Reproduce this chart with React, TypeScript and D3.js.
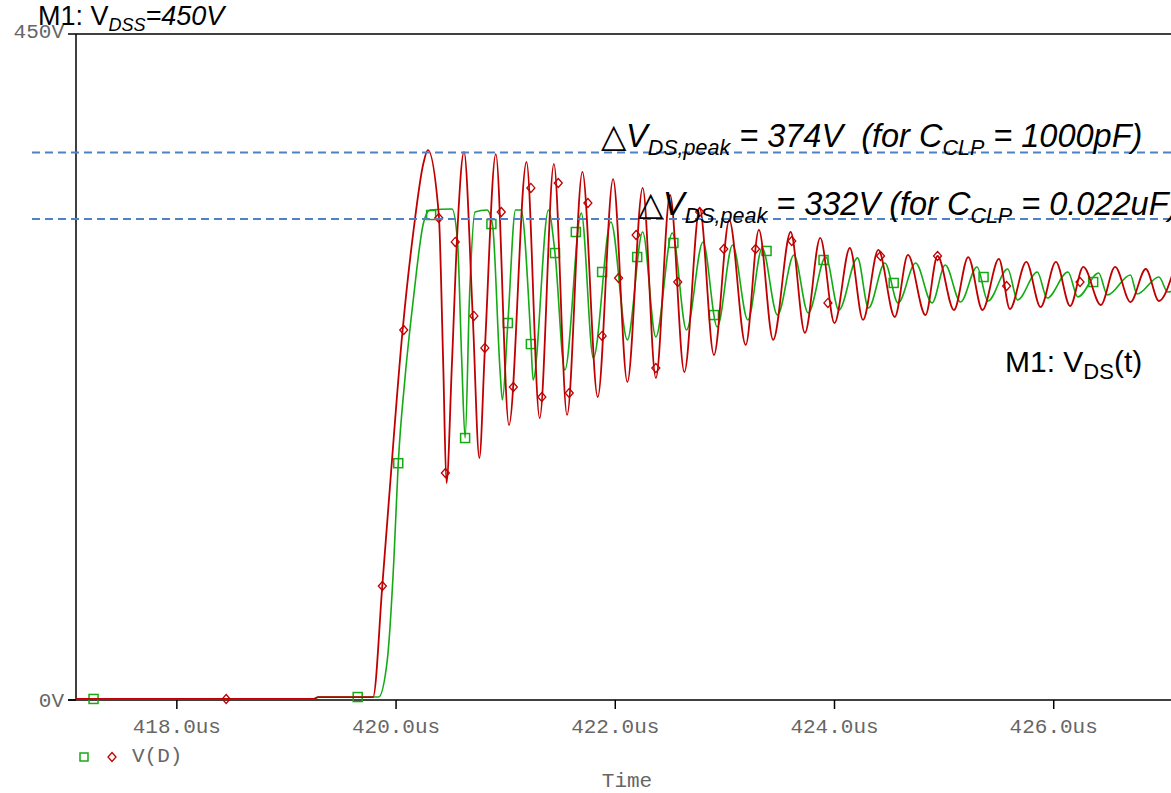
import React from 'react';
import * as d3 from 'd3';

// Axis ticks
const xTicks = [418, 420, 422, 424, 426];
const yTicks = [0, 450];
const yTickLabels = ['0V', '450V'];

// Peak reference levels (dashed lines)
const peakLevels = [370, 325];

// V(D) for C_CLP = 1000pF (red), [time us, volts]
const redPoints: [number, number][] = [
  [417.0, 0.7], [419.25, 0.7], [419.29, 2], [419.79, 2], [419.875, 77.7], [419.93, 130.4],
  [420.06, 250], [420.16, 317.6], [420.25, 362.8], [420.29, 371.6], [420.39, 327.7],
  [420.43, 227.7], [420.46, 146.6], [420.51, 227.7], [420.56, 317.6], [420.62, 370.3],
  [420.70, 258.8], [420.76, 163.5], [420.81, 236.5], [420.91, 368.9], [421.03, 185.8],
  [421.19, 363.5], [421.31, 190.5], [421.44, 362.2], [421.56, 192.6], [421.70, 356.8],
  [421.84, 204.7], [421.98, 352], [422.11, 214.9], [422.25, 346], [422.37, 217.6],
  [422.50, 341.2], [422.63, 221.6], [422.77, 332.4], [422.90, 233.1], [423.04, 324.3],
  [423.19, 239.9], [423.31, 317.6], [423.44, 243.3], [423.60, 316.2], [423.73, 248],
  [423.87, 312.2], [424.00, 254.7], [424.14, 305.4], [424.26, 256.8], [424.40, 304.1],
  [424.55, 258.8], [424.67, 300.7], [424.83, 260.1], [424.94, 300], [425.09, 263.5],
  [425.22, 299.3], [425.35, 263.5], [425.50, 298], [425.60, 264.2], [425.75, 296],
  [425.88, 265.5], [426.02, 296], [426.15, 266.2], [426.27, 292.6], [426.43, 266.9],
  [426.56, 292.6], [426.70, 268.9], [426.84, 291.2], [426.96, 269.6], [427.09, 289.2],
];

// V(D) for C_CLP = 0.022uF (green), [time us, volts]
const greenPoints: [number, number][] = [
  [417.0, 0.7], [419.25, 0.7], [419.29, 2], [419.84, 2], [419.92, 27], [419.98, 94.6],
  [420.02, 160.1], [420.08, 216.2], [420.16, 272.3], [420.25, 322.3], [420.31, 331.1],
  [420.51, 331.8], [420.56, 310.8], [420.60, 227.7], [420.63, 177], [420.67, 272.3],
  [420.72, 329.7], [420.83, 331.1], [420.88, 321], [420.95, 221], [420.97, 202.7],
  [421.02, 254.7], [421.09, 331.1], [421.14, 331.1], [421.23, 243.3], [421.25, 216.2],
  [421.39, 331.1], [421.45, 302], [421.54, 223], [421.69, 329], [421.80, 231.1],
  [421.96, 323], [422.11, 243.3], [422.25, 316.2], [422.37, 245.3], [422.52, 315.5],
  [422.65, 250], [422.80, 309.5], [422.93, 252], [423.07, 307.4], [423.21, 256.8],
  [423.34, 305.4], [423.48, 260.1], [423.63, 300.7], [423.76, 261.5], [423.92, 299.3],
  [424.04, 263.5], [424.21, 298.7], [424.31, 264.9], [424.46, 295.3], [424.58, 268.3],
  [424.74, 295.3], [424.89, 268.3], [425.01, 293.9], [425.15, 268.9], [425.30, 292.6],
  [425.40, 269.6], [425.58, 291.2], [425.67, 270.3], [425.85, 289.2], [425.94, 271.6],
  [426.13, 289.2], [426.22, 272.3], [426.41, 288.5], [426.49, 273.7], [426.70, 287.2],
  [426.76, 274.3], [426.96, 285.8], [427.04, 275.7], [427.20, 285],
];

// Trace markers
const redMarkers: [number, number][] = [
  [418.45, 0.7], [419.875, 77], [420.07, 250], [420.39, 325.7], [420.45, 153.4],
  [420.54, 309.5], [420.71, 259.5], [420.81, 237.9], [420.96, 329.7], [421.07, 211.5],
  [421.23, 346], [421.33, 204.7], [421.48, 349.3], [421.58, 207.4], [421.75, 335.8],
  [421.88, 246], [422.03, 285.1], [422.19, 314.2], [422.37, 224.3], [422.57, 282.4],
  [422.77, 329.7], [422.99, 304.7], [423.28, 304.7], [423.61, 310.1], [423.94, 268.3],
  [424.42, 300], [424.94, 300], [425.57, 279.7], [426.24, 282.4],
];
const greenMarkers: [number, number][] = [
  [417.24, 0.7], [419.65, 2], [420.02, 160], [420.32, 327.7], [420.63, 177],
  [420.87, 321.6], [421.02, 254.7], [421.23, 240.5], [421.45, 302], [421.64, 316.2],
  [421.88, 289.2], [422.20, 299.3], [422.53, 308.8], [422.90, 260.1], [423.38, 303.4],
  [423.90, 297.3], [424.54, 281.8], [425.36, 285.8], [426.36, 282.4],
];

const RED = '#c00000';
const GREEN = '#14aa14';
const BLUE = '#4f81c6';
const MONO = '"Liberation Mono", "DejaVu Sans Mono", monospace';
const SANS = '"Liberation Sans", Arial, sans-serif';

export default function App() {
  const W = 1171;
  const H = 793;
  const x = d3.scaleLinear().domain([417.08, 427.07]).range([76, 1171]);
  const y = d3.scaleLinear().domain([0, 450]).range([700, 34]);

  const line = d3
    .line<[number, number]>()
    .x((d) => x(d[0]))
    .y((d) => y(d[1]))
    .curve(d3.curveMonotoneX);

  const diamond = (cx: number, cy: number) =>
    `M${cx},${cy - 4.5}L${cx + 4},${cy}L${cx},${cy + 4.5}L${cx - 4},${cy}Z`;

  return (
    <svg
      width={W}
      height={H}
      style={{ position: 'absolute', left: 0, top: 0, background: '#fff' }}
    >
      <defs>
        <clipPath id="plotClip">
          <rect x={76} y={20} width={W - 76} height={690} />
        </clipPath>
      </defs>
      <rect x={0} y={0} width={W} height={H} fill="#fff" />

      {/* axes frame */}
      <line x1={76} x2={W} y1={y(450)} y2={y(450)} stroke="#000" strokeWidth={1.5} />
      <line x1={76} x2={76} y1={y(450)} y2={y(0)} stroke="#000" strokeWidth={1.5} />
      <line x1={68} x2={W} y1={y(0)} y2={y(0)} stroke="#000" strokeWidth={1.5} />
      {yTicks.map((v, i) => (
        <g key={v}>
          <line x1={68} x2={76} y1={y(v)} y2={y(v)} stroke="#000" strokeWidth={1.5} />
          <text
            x={64}
            y={y(v) + (v === 0 ? 7 : 4)}
            textAnchor="end"
            fontFamily={MONO}
            fontSize={21}
            fill="#666"
          >
            {yTickLabels[i]}
          </text>
        </g>
      ))}
      {xTicks.map((t) => (
        <g key={t}>
          <line x1={x(t)} x2={x(t)} y1={y(0)} y2={y(0) + 9} stroke="#000" strokeWidth={1.5} />
          <text
            x={x(t)}
            y={733}
            textAnchor="middle"
            fontFamily={MONO}
            fontSize={21}
            fill="#666"
          >
            {`${t.toFixed(1)}us`}
          </text>
        </g>
      ))}
      <text x={627} y={787} textAnchor="middle" fontFamily={MONO} fontSize={21} fill="#666">
        Time
      </text>

      {/* traces */}
      <g clipPath="url(#plotClip)">
        <path d={line(greenPoints) || ''} fill="none" stroke={GREEN} strokeWidth={1.6} />
        {greenMarkers.map((d, i) => (
          <rect
            key={'g' + i}
            x={x(d[0]) - 4.5}
            y={y(d[1]) - 4.5}
            width={9}
            height={9}
            fill="none"
            stroke={GREEN}
            strokeWidth={1.5}
          />
        ))}
        <path d={line(redPoints) || ''} fill="none" stroke={RED} strokeWidth={1.8} />
        {redMarkers.map((d, i) => (
          <path
            key={'r' + i}
            d={diamond(x(d[0]), y(d[1]))}
            fill="none"
            stroke={RED}
            strokeWidth={1.3}
          />
        ))}
      </g>

      {/* peak reference lines */}
      {peakLevels.map((v) => (
        <line
          key={v}
          x1={32}
          x2={W}
          y1={y(v)}
          y2={y(v)}
          stroke={BLUE}
          strokeWidth={2}
          strokeDasharray="8,5"
        />
      ))}

      {/* legend */}
      <rect x={80} y={753} width={8} height={8} fill="none" stroke={GREEN} strokeWidth={1.5} />
      <path d={diamond(112, 757)} fill="none" stroke={RED} strokeWidth={1.3} />
      <text x={132} y={762} fontFamily={MONO} fontSize={21} fill="#666">
        V(D)
      </text>

      {/* title */}
      <text x={38} y={25} fontFamily={SANS} fontSize={27} fill="#000">
        <tspan>M1: V</tspan>
        <tspan y={31} fontSize={18} fontStyle="italic">DSS</tspan>
        <tspan y={25} fontStyle="italic">=450V</tspan>
      </text>

      {/* annotations */}
      <text x={601} y={147} fontFamily={SANS} fontSize={32.5} fill="#000" style={{ whiteSpace: 'pre' }}>
        <tspan>△</tspan>
        <tspan fontStyle="italic">V</tspan>
        <tspan y={155} fontSize={21.5} fontStyle="italic">DS,peak</tspan>
        <tspan y={147} fontStyle="italic"> = 374V  (for C</tspan>
        <tspan y={155} fontSize={21.5} fontStyle="italic">CLP</tspan>
        <tspan y={147} fontStyle="italic"> = 1000pF)</tspan>
      </text>
      <text x={638} y={215} fontFamily={SANS} fontSize={32.5} fill="#000" style={{ whiteSpace: 'pre' }}>
        <tspan>△</tspan>
        <tspan fontStyle="italic">V</tspan>
        <tspan y={223} fontSize={21.5} fontStyle="italic">DS,peak</tspan>
        <tspan y={215} fontStyle="italic"> = 332V (for C</tspan>
        <tspan y={223} fontSize={21.5} fontStyle="italic">CLP</tspan>
        <tspan y={215} fontStyle="italic"> = 0.022uF)</tspan>
      </text>
      <text x={1005} y={372} fontFamily={SANS} fontSize={30} fill="#000">
        <tspan>M1: V</tspan>
        <tspan y={379} fontSize={22}>DS</tspan>
        <tspan y={372}>(t)</tspan>
      </text>
    </svg>
  );
}
